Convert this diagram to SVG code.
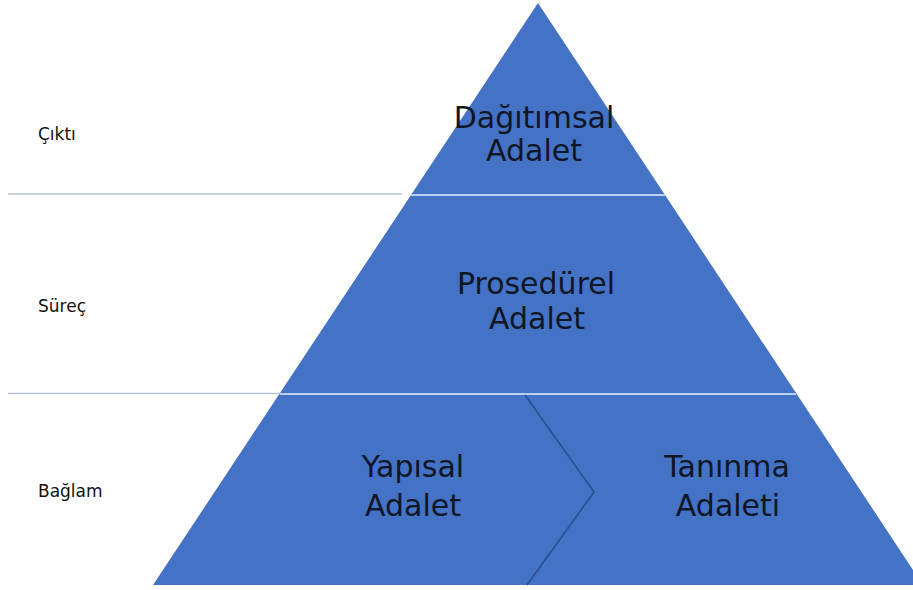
<svg xmlns="http://www.w3.org/2000/svg" width="913" height="590" viewBox="0 0 913 590">
<style>
.tier{fill:#4472c4;}
.main{font-family:"DejaVu Sans","Liberation Sans",sans-serif;font-size:30px;fill:#0f1626;text-anchor:middle;}
.side{font-family:"DejaVu Sans","Liberation Sans",sans-serif;font-size:17px;fill:#111;}
.guide{stroke:#b7c3d3;stroke-width:1.5;fill:none;}
.sep{stroke:#b9d0f2;stroke-width:2;fill:none;}
.chev{stroke:#2a4f8f;stroke-width:1.6;fill:none;}
</style>
<rect width="913" height="590" fill="#ffffff"/>
<g id="pyramid">
<polygon class="tier" points="538,3 923,585 153,585"/>
</g>
<g id="connectors">
<line class="guide" x1="8" y1="194" x2="402" y2="194"/>
<line class="guide" x1="8" y1="393.5" x2="280" y2="393.5"/>
<line class="sep" x1="411" y1="195" x2="665" y2="195"/>
<line class="sep" x1="280" y1="394" x2="796" y2="394"/>
<polyline class="chev" points="525,395 594,492 527,585"/>
</g>
<g id="node-dagitimsal">
<text class="main" x="534" y="128">Dağıtımsal</text>
<text class="main" x="534" y="161">Adalet</text>
</g>
<g id="node-prosedurel">
<text class="main" x="536" y="294">Prosedürel</text>
<text class="main" x="537" y="329">Adalet</text>
</g>
<g id="node-yapisal">
<text class="main" x="413" y="477">Yapısal</text>
<text class="main" x="413" y="516">Adalet</text>
</g>
<g id="node-taninma">
<text class="main" x="727" y="477">Tanınma</text>
<text class="main" x="728" y="516">Adaleti</text>
</g>
<g id="labels">
<text class="side" x="38" y="140">Çıktı</text>
<text class="side" x="38" y="312">Süreç</text>
<text class="side" x="38" y="497">Bağlam</text>
</g>
</svg>
